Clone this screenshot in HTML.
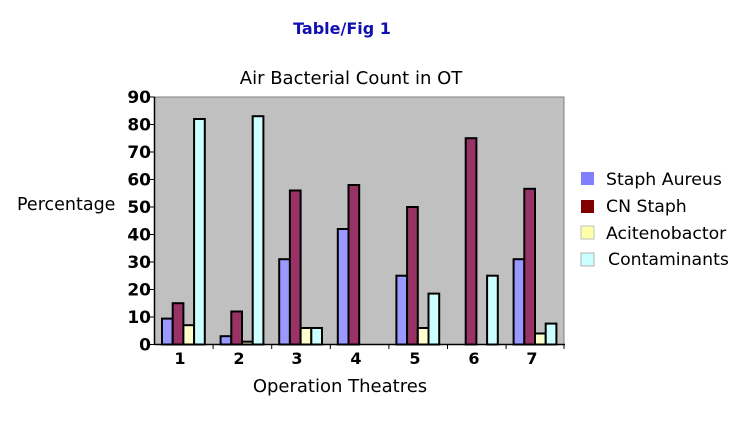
<!DOCTYPE html>
<html><head><meta charset="utf-8"><style>
html,body{margin:0;padding:0;background:#fff;width:738px;height:443px;overflow:hidden}
svg{display:block;font-family:"DejaVu Sans","Liberation Sans",sans-serif}
</style></head><body>
<svg width="738" height="443" viewBox="0 0 738 443">
<text x="342" y="34" text-anchor="middle" font-size="16" font-weight="bold" fill="#1010b0">Table/Fig 1</text>
<text x="351" y="84" text-anchor="middle" font-size="18" fill="#000">Air Bacterial Count in OT</text>
<rect x="154.5" y="97" width="409.5" height="247.5" fill="#c0c0c0" stroke="#808080" stroke-width="1"/>
<g stroke="#000" stroke-width="1.5">
<line x1="154.5" y1="97" x2="154.5" y2="345"/>
<line x1="154.5" y1="344.5" x2="565" y2="344.5"/>
<g stroke-width="1">
<line x1="150" y1="97" x2="154.5" y2="97"/><line x1="150" y1="124.5" x2="154.5" y2="124.5"/><line x1="150" y1="152" x2="154.5" y2="152"/><line x1="150" y1="179.5" x2="154.5" y2="179.5"/><line x1="150" y1="207" x2="154.5" y2="207"/><line x1="150" y1="234.5" x2="154.5" y2="234.5"/><line x1="150" y1="262" x2="154.5" y2="262"/><line x1="150" y1="289.5" x2="154.5" y2="289.5"/><line x1="150" y1="317" x2="154.5" y2="317"/><line x1="150" y1="344.5" x2="154.5" y2="344.5"/>
<line x1="213.1" y1="344.5" x2="213.1" y2="349"/><line x1="271.7" y1="344.5" x2="271.7" y2="349"/><line x1="330.3" y1="344.5" x2="330.3" y2="349"/><line x1="388.9" y1="344.5" x2="388.9" y2="349"/><line x1="447.5" y1="344.5" x2="447.5" y2="349"/><line x1="506.1" y1="344.5" x2="506.1" y2="349"/><line x1="564" y1="344.5" x2="564" y2="349"/>
</g>
</g>
<g font-size="17" font-weight="bold" text-anchor="end" fill="#000">
<text x="151" y="103">90</text><text x="151" y="130.5">80</text><text x="151" y="158">70</text><text x="151" y="185.5">60</text><text x="151" y="213">50</text><text x="151" y="240.5">40</text><text x="151" y="268">30</text><text x="151" y="295.5">20</text><text x="151" y="323">10</text><text x="151" y="350.5">0</text>
</g>
<text x="17" y="210" font-size="17.5" fill="#000">Percentage</text>
<g font-size="16" font-weight="bold" text-anchor="middle" fill="#000">
<text x="180" y="364">1</text><text x="239" y="364">2</text><text x="297" y="364">3</text><text x="356" y="364">4</text><text x="415" y="364">5</text><text x="474" y="364">6</text><text x="532" y="364">7</text>
</g>
<text x="340" y="392" text-anchor="middle" font-size="18" fill="#000">Operation Theatres</text>
<g stroke="#000" stroke-width="2">
<rect x="162" y="318.6" width="10.7" height="25.9" fill="#9999ff"/>
<rect x="172.7" y="303.2" width="10.7" height="41.3" fill="#993366"/>
<rect x="183.4" y="325.2" width="10.7" height="19.3" fill="#ffffcc"/>
<rect x="194.1" y="119" width="10.7" height="225.5" fill="#ccffff"/>
<rect x="220.6" y="336.2" width="10.7" height="8.3" fill="#9999ff"/>
<rect x="231.3" y="311.5" width="10.7" height="33" fill="#993366"/>
<rect x="242" y="341.7" width="10.7" height="2.8" fill="#ffffcc"/>
<rect x="252.7" y="116.2" width="10.7" height="228.3" fill="#ccffff"/>
<rect x="279.2" y="259.2" width="10.7" height="85.3" fill="#9999ff"/>
<rect x="289.9" y="190.5" width="10.7" height="154" fill="#993366"/>
<rect x="300.6" y="328" width="10.7" height="16.5" fill="#ffffcc"/>
<rect x="311.3" y="328" width="10.7" height="16.5" fill="#ccffff"/>
<rect x="337.8" y="229" width="10.7" height="115.5" fill="#9999ff"/>
<rect x="348.5" y="185" width="10.7" height="159.5" fill="#993366"/>
<rect x="396.4" y="275.7" width="10.7" height="68.8" fill="#9999ff"/>
<rect x="407.1" y="207" width="10.7" height="137.5" fill="#993366"/>
<rect x="417.8" y="328" width="10.7" height="16.5" fill="#ffffcc"/>
<rect x="428.5" y="293.6" width="10.7" height="50.9" fill="#ccffff"/>
<rect x="465.7" y="138.2" width="10.7" height="206.3" fill="#993366"/>
<rect x="487.1" y="275.7" width="10.7" height="68.8" fill="#ccffff"/>
<rect x="513.6" y="259.2" width="10.7" height="85.3" fill="#9999ff"/>
<rect x="524.3" y="188.8" width="10.7" height="155.7" fill="#993366"/>
<rect x="535" y="333.5" width="10.7" height="11" fill="#ffffcc"/>
<rect x="545.7" y="323.6" width="10.7" height="20.9" fill="#ccffff"/>
</g>
<rect x="581" y="172" width="13" height="13" fill="#8080ff"/>
<rect x="581" y="200" width="13" height="13" fill="#800000"/>
<rect x="581" y="226" width="13" height="13" fill="#ffffaa" stroke="#c0c0c0" stroke-width="1"/>
<rect x="581" y="253" width="13" height="13" fill="#ccffff" stroke="#b0b0b0" stroke-width="1"/>
<g font-size="17.3" fill="#000">
<text x="606" y="185">Staph Aureus</text>
<text x="606" y="212">CN Staph</text>
<text x="606" y="239">Acitenobactor</text>
<text x="608" y="265">Contaminants</text>
</g>
</svg>
</body></html>
